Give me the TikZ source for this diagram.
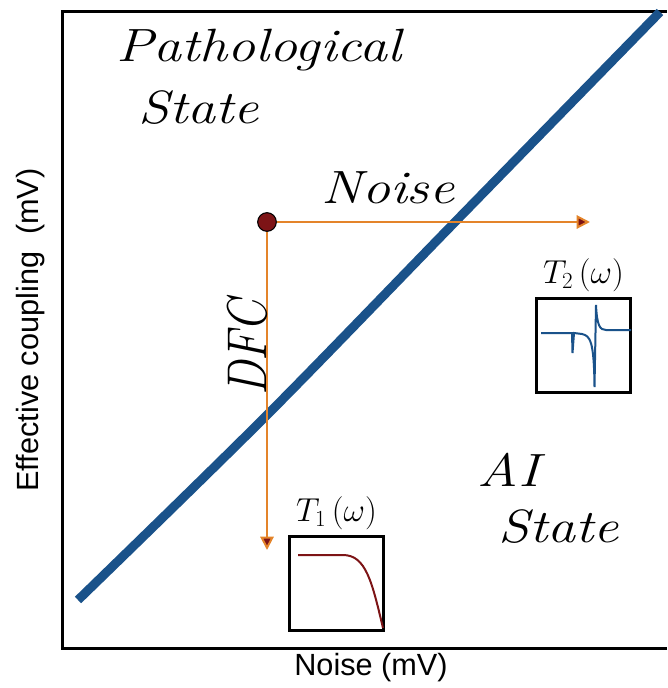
\documentclass[tikz,border=0pt]{standalone}
\usepackage{fontspec}
\setsansfont{Liberation Sans}
\usetikzlibrary{positioning,arrows.meta}

\definecolor{lineblue}{RGB}{26,82,138}
\definecolor{dotred}{RGB}{125,20,22}
\definecolor{arroworange}{RGB}{228,132,42}

\tikzset{
    handtext/.style={font=\fontsize{35}{40}\selectfont\itshape, inner sep=0pt, xscale=1.2},
    axislabel/.style={font=\sffamily\fontsize{23}{27}\selectfont},
    insetbox/.style={draw=black, line width=2.25pt, minimum width=71pt, minimum height=71pt, inner sep=0pt},
    insetlabel/.style={font=\fontsize{24}{28}\selectfont},
    orangearrow/.style={draw=arroworange, line width=1.5pt,
        -{Triangle[length=10pt, width=10pt, fill=dotred]}},
}

\begin{document}
\begin{tikzpicture}[x=0.75pt, y=-0.75pt]

    \useasboundingbox (0,0) rectangle (667,688);

    % 座標軸
    \draw[line width=2.25pt] (667,12) -- (62,12) -- (62,648) -- (667,648);
    \node[axislabel] (xlabel) at (371,668) {Noise (mV)};
    \node[axislabel, rotate=90] (ylabel) at (31,330) {Effective coupling\ \ (mV)};

    % 境界線
    \draw[lineblue, line width=6.75pt] plot[smooth] coordinates
        {(78,600) (267,415) (455,222) (660,12)};

    % 領域の名前
    \node[handtext, anchor=west] (patho) at (116,50) {Pathological};
    \node[handtext, anchor=west] (pathostate) at (138,108) {State};
    \node[handtext, anchor=west] (ai) at (477,470) {AI};
    \node[handtext, anchor=west] (aistate) at (498,527) {State};

    % 出発点と矢印
    \node[circle, fill=dotred, draw=black, line width=0.8pt, minimum size=14pt, inner sep=0pt] (dot) at (267,222) {};
    \coordinate (noiseend) at (590,222);
    \coordinate (dfcend) at (267,550);
    \draw[orangearrow] (dot) -- (noiseend);
    \draw[orangearrow] (dot) -- (dfcend);
    \node[handtext] (noiselbl) at (388,188) {Noise};
    \node[handtext, rotate=90] (dfclbl) at (247,348) {DFC};

    % T_1 の小窓
    \node[insetbox] (t1box) at (336.5,583.5) {};
    \node[insetlabel, above=0pt of t1box] (t1lbl) {$T_1\,(\omega)$};
    \draw[dotred, line width=1.5pt] (298,555) -- (343,555)
        .. controls (366,555) and (372,582) .. (383,628);

    % T_2 の小窓
    \node[insetbox] (t2box) at (583.5,345.5) {};
    \node[insetlabel, above=0pt of t2box] (t2lbl) {$T_2\,(\omega)$};
    \draw[lineblue, line width=1.5pt] (541,333) -- (572,333) -- (572.5,353)
        -- (574,333) -- (582,334) .. controls (590,336) and (594,340) .. (594.5,387)
        -- (596,305) .. controls (597,326) and (600,330) .. (606,330) -- (631,330);

\end{tikzpicture}
\end{document}
